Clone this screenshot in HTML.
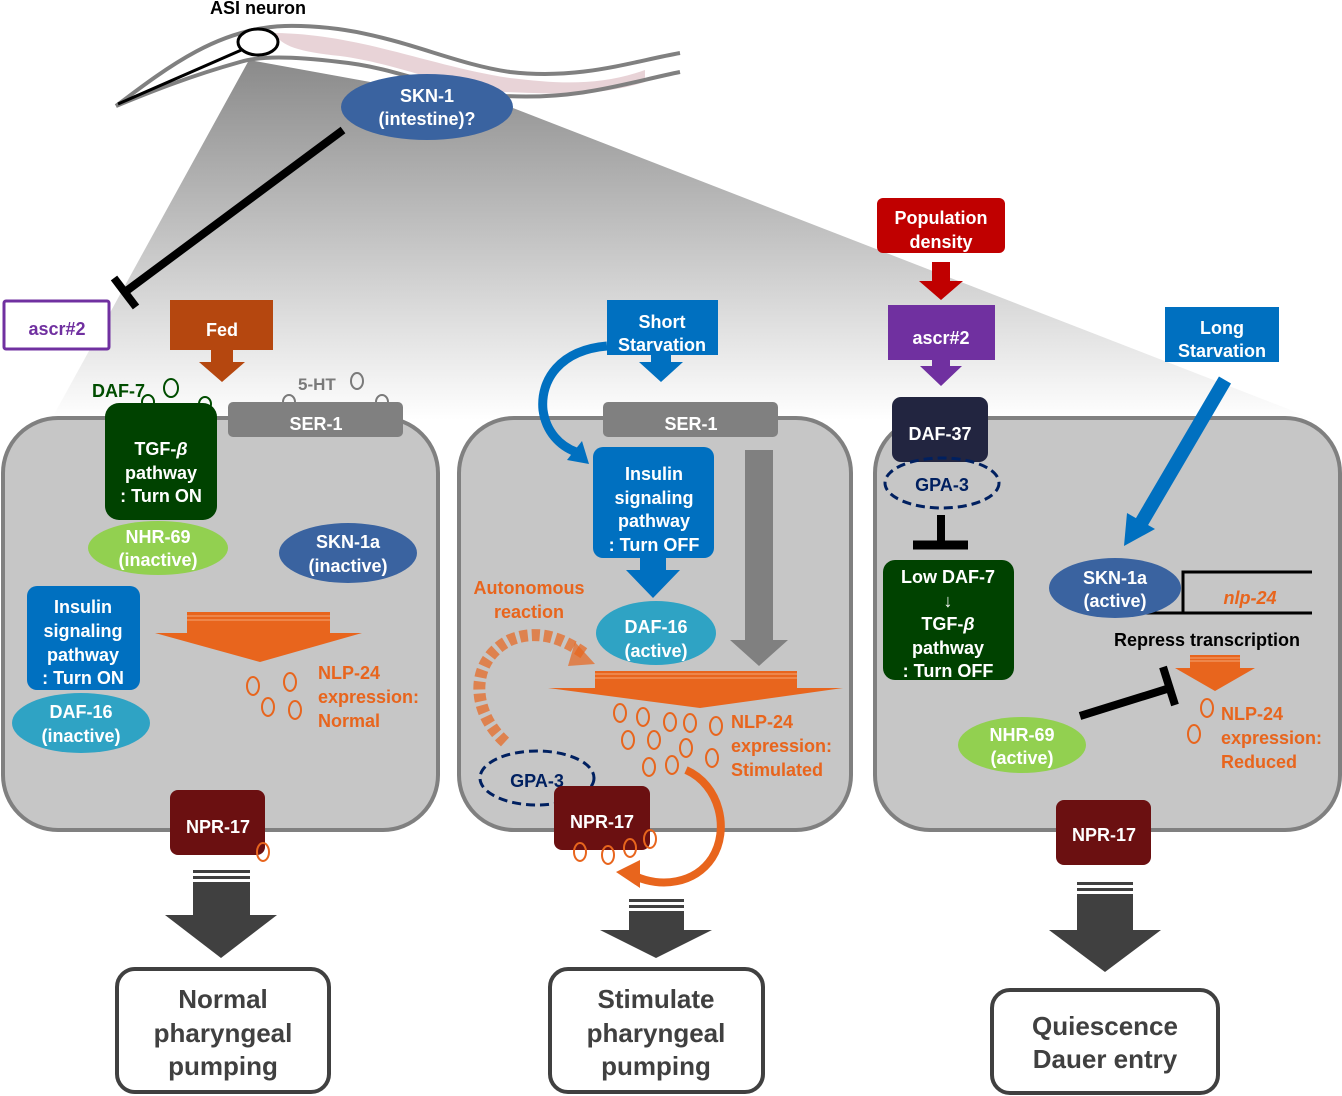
<!DOCTYPE html>
<html><head><meta charset="utf-8"><style>
html,body{margin:0;padding:0;background:#fff}
svg{display:block}
text{font-family:"Liberation Sans",Arial,sans-serif;font-weight:bold}
.w{fill:#fff;font-size:18px}
.o{fill:#e8651d;font-size:18px}
</style></head><body>
<svg width="1342" height="1096" viewBox="0 0 1342 1096" xmlns="http://www.w3.org/2000/svg">
<defs>
<linearGradient id="cone" x1="0" y1="60" x2="0" y2="420" gradientUnits="userSpaceOnUse">
<stop offset="0" stop-color="#8a8a8a"/><stop offset="0.5" stop-color="#c4c4c4"/><stop offset="1" stop-color="#ffffff"/>
</linearGradient>
</defs>
<!-- cone -->
<polygon points="249,60 513,108 1283,407 1340,430 1340,440 40,440" fill="url(#cone)"/>
<!-- worm -->
<path d="M116,106 C170,65 220,28 285,26 C380,24 440,62 510,72 C580,80 630,62 680,53 L680,72 C630,82 580,100 505,96 C440,92 400,68 340,62 C290,56 260,56 240,62 C190,76 150,92 116,106 Z" fill="#fff"/>
<path d="M275,33 C360,34 430,66 510,78 C560,84 600,86 645,70 L645,82 C600,96 560,94 505,92 C440,86 400,64 340,56 C300,52 280,46 275,33 Z" fill="#e8d3d7"/>
<path d="M116,106 C170,65 220,28 285,26 C380,24 440,62 510,72 C580,80 630,62 680,53" fill="none" stroke="#808080" stroke-width="4"/>
<path d="M116,106 C150,92 190,76 240,62 C260,56 290,56 340,62 C400,68 440,92 505,96 C580,100 630,82 680,72" fill="none" stroke="#808080" stroke-width="4"/>
<line x1="118" y1="104" x2="246" y2="48" stroke="#000" stroke-width="3"/>
<ellipse cx="258" cy="42" rx="20" ry="13" fill="#fff" stroke="#000" stroke-width="3"/>
<text x="258" y="14" text-anchor="middle" font-size="18" fill="#000">ASI neuron</text>
<ellipse cx="427" cy="107" rx="86" ry="33" fill="#3a63a0"/>
<text class="w" x="427" y="102" text-anchor="middle">SKN-1</text>
<text class="w" x="427" y="125" text-anchor="middle">(intestine)?</text>
<!-- inhibit -->
<line x1="343" y1="130" x2="125" y2="292" stroke="#000" stroke-width="8"/>
<line x1="114" y1="278" x2="136" y2="307" stroke="#000" stroke-width="8"/>

<!-- panels -->
<rect x="3" y="418" width="435" height="412" rx="55" fill="#c6c6c6" stroke="#808080" stroke-width="4"/>
<rect x="459" y="418" width="392" height="412" rx="55" fill="#c6c6c6" stroke="#808080" stroke-width="4"/>
<rect x="875" y="418" width="465" height="412" rx="55" fill="#c6c6c6" stroke="#808080" stroke-width="4"/>

<!-- LEFT -->
<rect x="4" y="301" width="105" height="48" rx="2" fill="#fff" stroke="#7030a0" stroke-width="3"/>
<text x="57" y="335" text-anchor="middle" font-size="18" fill="#7030a0">ascr#2</text>
<rect x="170" y="300" width="103" height="50" fill="#b5470f"/>
<text class="w" x="222" y="336" text-anchor="middle">Fed</text>
<polygon points="211,350 233,350 233,362 245,362 222,382 199,362 211,362" fill="#b5470f"/>
<text x="92" y="397" font-size="18" fill="#004d00">DAF-7</text>
<g fill="none" stroke="#004d00" stroke-width="2">
<ellipse cx="171" cy="388" rx="7" ry="9"/><ellipse cx="148" cy="402" rx="6" ry="7"/><ellipse cx="205" cy="404" rx="6" ry="7"/></g>
<text x="298" y="390" font-size="17" fill="#7a7a7a">5-HT</text>
<g fill="none" stroke="#7a7a7a" stroke-width="2">
<ellipse cx="357" cy="381" rx="6" ry="8"/><ellipse cx="289" cy="402" rx="6" ry="7"/><ellipse cx="382" cy="402" rx="6" ry="7"/></g>
<rect x="105" y="403" width="112" height="117" rx="14" fill="#004200"/>
<text class="w" x="161" y="455" text-anchor="middle">TGF-<tspan font-style="italic">β</tspan></text>
<text class="w" x="161" y="479" text-anchor="middle">pathway</text>
<text class="w" x="161" y="502" text-anchor="middle">: Turn ON</text>
<rect x="228" y="402" width="175" height="35" rx="5" fill="#808080"/>
<text class="w" x="316" y="430" text-anchor="middle">SER-1</text>
<ellipse cx="158" cy="548" rx="70" ry="27" fill="#92d050"/>
<text class="w" x="158" y="543" text-anchor="middle">NHR-69</text>
<text class="w" x="158" y="566" text-anchor="middle">(inactive)</text>
<ellipse cx="348" cy="553" rx="69" ry="30" fill="#3a63a0"/>
<text class="w" x="348" y="548" text-anchor="middle">SKN-1a</text>
<text class="w" x="348" y="572" text-anchor="middle">(inactive)</text>
<rect x="27" y="586" width="113" height="104" rx="10" fill="#0070c0"/>
<text class="w" x="83" y="613" text-anchor="middle">Insulin</text>
<text class="w" x="83" y="637" text-anchor="middle">signaling</text>
<text class="w" x="83" y="661" text-anchor="middle">pathway</text>
<text class="w" x="83" y="684" text-anchor="middle">: Turn ON</text>
<ellipse cx="81" cy="723" rx="69" ry="30" fill="#2fa3c4"/>
<text class="w" x="81" y="718" text-anchor="middle">DAF-16</text>
<text class="w" x="81" y="742" text-anchor="middle">(inactive)</text>
<rect x="187" y="612" width="143" height="21" fill="#e8651d"/>
<g stroke="#f3a877" stroke-width="1"><line x1="187" y1="616" x2="330" y2="616"/><line x1="187" y1="620" x2="330" y2="620"/></g>
<polygon points="155,633 362,633 260,662" fill="#e8651d"/>
<g fill="none" stroke="#e8651d" stroke-width="2">
<ellipse cx="253" cy="686" rx="6" ry="9"/><ellipse cx="290" cy="682" rx="6" ry="9"/><ellipse cx="268" cy="707" rx="6" ry="9"/><ellipse cx="295" cy="710" rx="6" ry="9"/></g>
<text class="o" x="318" y="679">NLP-24</text>
<text class="o" x="318" y="703">expression:</text>
<text class="o" x="318" y="727">Normal</text>
<rect x="170" y="790" width="95" height="65" rx="8" fill="#6b1011"/>
<text class="w" x="218" y="833" text-anchor="middle">NPR-17</text>
<ellipse cx="263" cy="852" rx="6" ry="9" fill="none" stroke="#e8651d" stroke-width="2"/>
<g fill="#404040"><rect x="193" y="870" width="57" height="3"/><rect x="193" y="876" width="57" height="3"/><rect x="193" y="882" width="57" height="33"/><polygon points="165,915 277,915 221,958"/></g>
<rect x="117" y="969" width="212" height="123" rx="18" fill="#fff" stroke="#404040" stroke-width="4"/>
<g font-size="26" fill="#404040" text-anchor="middle"><text x="223" y="1008">Normal</text><text x="223" y="1042">pharyngeal</text><text x="223" y="1075">pumping</text></g>

<!-- MIDDLE -->
<rect x="607" y="300" width="111" height="55" fill="#0070c0"/>
<text class="w" x="662" y="328" text-anchor="middle">Short</text>
<text class="w" x="662" y="351" text-anchor="middle">Starvation</text>
<polygon points="651,355 671,355 671,362 683,362 661,382 639,362 651,362" fill="#0070c0"/>
<path d="M607,346 C560,350 540,380 543,410 C546,432 560,446 576,452" fill="none" stroke="#0070c0" stroke-width="9"/>
<polygon points="567,460 589,464 582,441" fill="#0070c0"/>
<rect x="603" y="402" width="175" height="35" rx="5" fill="#808080"/>
<text class="w" x="691" y="430" text-anchor="middle">SER-1</text>
<rect x="745" y="450" width="28" height="190" fill="#808080"/>
<polygon points="730,640 788,640 759,666" fill="#808080"/>
<rect x="593" y="447" width="121" height="111" rx="10" fill="#0070c0"/>
<text class="w" x="654" y="480" text-anchor="middle">Insulin</text>
<text class="w" x="654" y="504" text-anchor="middle">signaling</text>
<text class="w" x="654" y="527" text-anchor="middle">pathway</text>
<text class="w" x="654" y="551" text-anchor="middle">: Turn OFF</text>
<polygon points="640,558 666,558 666,570 680,570 653,598 626,570 640,570" fill="#0070c0"/>
<text class="o" x="529" y="594" text-anchor="middle">Autonomous</text>
<text class="o" x="529" y="618" text-anchor="middle">reaction</text>
<path d="M505,742 C470,710 470,660 510,640 C540,628 565,640 585,654" fill="none" stroke="#e8651d" stroke-width="12" stroke-dasharray="8,4" opacity="0.7"/>
<polygon points="575,642 595,664 568,666" fill="#e8651d" opacity="0.7"/>
<ellipse cx="656" cy="633" rx="60" ry="32" fill="#2fa3c4"/>
<text class="w" x="656" y="633" text-anchor="middle">DAF-16</text>
<text class="w" x="656" y="657" text-anchor="middle">(active)</text>
<rect x="595" y="671" width="202" height="17" fill="#e8651d"/>
<g stroke="#f3a877" stroke-width="1"><line x1="595" y1="674" x2="797" y2="674"/><line x1="595" y1="678" x2="797" y2="678"/></g>
<polygon points="548,688 843,688 700,708" fill="#e8651d"/>
<g fill="none" stroke="#e8651d" stroke-width="2">
<ellipse cx="620" cy="713" rx="6" ry="9"/><ellipse cx="643" cy="717" rx="6" ry="9"/><ellipse cx="670" cy="722" rx="6" ry="9"/><ellipse cx="690" cy="723" rx="6" ry="9"/><ellipse cx="716" cy="726" rx="6" ry="9"/>
<ellipse cx="628" cy="740" rx="6" ry="9"/><ellipse cx="654" cy="740" rx="6" ry="9"/><ellipse cx="686" cy="748" rx="6" ry="9"/><ellipse cx="712" cy="758" rx="6" ry="9"/>
<ellipse cx="649" cy="767" rx="6" ry="9"/><ellipse cx="672" cy="765" rx="6" ry="9"/></g>
<text class="o" x="731" y="728">NLP-24</text>
<text class="o" x="731" y="752">expression:</text>
<text class="o" x="731" y="776">Stimulated</text>
<ellipse cx="537" cy="778" rx="57" ry="27" fill="none" stroke="#002060" stroke-width="3" stroke-dasharray="9,5"/>
<text x="537" y="787" text-anchor="middle" font-size="18" fill="#002060">GPA-3</text>
<rect x="554" y="786" width="96" height="64" rx="8" fill="#6b1011"/>
<text class="w" x="602" y="828" text-anchor="middle">NPR-17</text>
<g fill="none" stroke="#e8651d" stroke-width="2"><ellipse cx="580" cy="852" rx="6" ry="9"/><ellipse cx="608" cy="855" rx="6" ry="9"/><ellipse cx="630" cy="848" rx="6" ry="9"/><ellipse cx="650" cy="839" rx="6" ry="9"/></g>
<path d="M686,770 C720,785 730,830 712,858 C695,884 660,888 635,876" fill="none" stroke="#e8651d" stroke-width="8"/>
<polygon points="616,872 640,860 640,888" fill="#e8651d"/>
<g fill="#404040"><rect x="629" y="899" width="55" height="3"/><rect x="629" y="905" width="55" height="3"/><rect x="629" y="911" width="55" height="19"/><polygon points="600,930 712,930 656,958"/></g>
<rect x="550" y="969" width="213" height="123" rx="18" fill="#fff" stroke="#404040" stroke-width="4"/>
<g font-size="26" fill="#404040" text-anchor="middle"><text x="656" y="1008">Stimulate</text><text x="656" y="1042">pharyngeal</text><text x="656" y="1075">pumping</text></g>

<!-- RIGHT -->
<rect x="877" y="198" width="128" height="55" rx="6" fill="#c00000"/>
<text class="w" x="941" y="224" text-anchor="middle">Population</text>
<text class="w" x="941" y="248" text-anchor="middle">density</text>
<polygon points="932,262 950,262 950,281 963,281 941,300 919,281 932,281" fill="#c00000"/>
<rect x="888" y="305" width="107" height="55" fill="#7030a0"/>
<text class="w" x="941" y="344" text-anchor="middle">ascr#2</text>
<polygon points="932,360 950,360 950,366 962,366 941,386 920,366 932,366" fill="#7030a0"/>
<rect x="892" y="397" width="96" height="65" rx="9" fill="#222540"/>
<text class="w" x="940" y="440" text-anchor="middle">DAF-37</text>
<ellipse cx="942" cy="483" rx="57" ry="25" fill="none" stroke="#002060" stroke-width="3" stroke-dasharray="9,5"/>
<text x="942" y="491" text-anchor="middle" font-size="18" fill="#002060">GPA-3</text>
<line x1="941" y1="515" x2="941" y2="544" stroke="#000" stroke-width="8"/>
<line x1="913" y1="545" x2="968" y2="545" stroke="#000" stroke-width="9"/>
<rect x="883" y="560" width="131" height="120" rx="12" fill="#004200"/>
<text class="w" x="948" y="583" text-anchor="middle">Low DAF-7</text>
<text class="w" x="948" y="607" text-anchor="middle">↓</text>
<text class="w" x="948" y="630" text-anchor="middle">TGF-<tspan font-style="italic">β</tspan></text>
<text class="w" x="948" y="654" text-anchor="middle">pathway</text>
<text class="w" x="948" y="677" text-anchor="middle">: Turn OFF</text>
<rect x="1165" y="307" width="114" height="55" fill="#0070c0"/>
<text class="w" x="1222" y="334" text-anchor="middle">Long</text>
<text class="w" x="1222" y="357" text-anchor="middle">Starvation</text>
<line x1="1225" y1="380" x2="1140" y2="525" stroke="#0070c0" stroke-width="14"/>
<polygon points="1124,546 1127,513 1155,529" fill="#0070c0"/>
<g stroke="#000" stroke-width="3" fill="none"><polyline points="1140,613 1312,613"/><polyline points="1312,572 1183,572 1183,613"/></g>
<ellipse cx="1115" cy="588" rx="66" ry="30" fill="#3a63a0"/>
<text class="w" x="1115" y="584" text-anchor="middle">SKN-1a</text>
<text class="w" x="1115" y="607" text-anchor="middle">(active)</text>
<text x="1250" y="604" text-anchor="middle" font-size="18" font-style="italic" fill="#e8651d">nlp-24</text>
<text x="1207" y="646" text-anchor="middle" font-size="18" fill="#000">Repress transcription</text>
<rect x="1190" y="655" width="50" height="13" fill="#e8651d"/>
<g stroke="#f3a877" stroke-width="1"><line x1="1190" y1="658" x2="1240" y2="658"/><line x1="1190" y1="661" x2="1240" y2="661"/></g>
<polygon points="1175,668 1255,668 1215,691" fill="#e8651d"/>
<line x1="1080" y1="716" x2="1170" y2="688" stroke="#000" stroke-width="8"/>
<line x1="1163" y1="667" x2="1175" y2="705" stroke="#000" stroke-width="8"/>
<ellipse cx="1022" cy="745" rx="64" ry="28" fill="#92d050"/>
<text class="w" x="1022" y="741" text-anchor="middle">NHR-69</text>
<text class="w" x="1022" y="764" text-anchor="middle">(active)</text>
<g fill="none" stroke="#e8651d" stroke-width="2"><ellipse cx="1207" cy="708" rx="6" ry="9"/><ellipse cx="1194" cy="734" rx="6" ry="9"/></g>
<text class="o" x="1221" y="720">NLP-24</text>
<text class="o" x="1221" y="744">expression:</text>
<text class="o" x="1221" y="768">Reduced</text>
<rect x="1056" y="800" width="95" height="65" rx="8" fill="#6b1011"/>
<text class="w" x="1104" y="841" text-anchor="middle">NPR-17</text>
<g fill="#404040"><rect x="1077" y="882" width="56" height="3"/><rect x="1077" y="888" width="56" height="3"/><rect x="1077" y="894" width="56" height="36"/><polygon points="1049,930 1161,930 1105,972"/></g>
<rect x="992" y="990" width="226" height="103" rx="18" fill="#fff" stroke="#404040" stroke-width="4"/>
<g font-size="26" fill="#404040" text-anchor="middle"><text x="1105" y="1035">Quiescence</text><text x="1105" y="1068">Dauer entry</text></g>
</svg>
</body></html>
